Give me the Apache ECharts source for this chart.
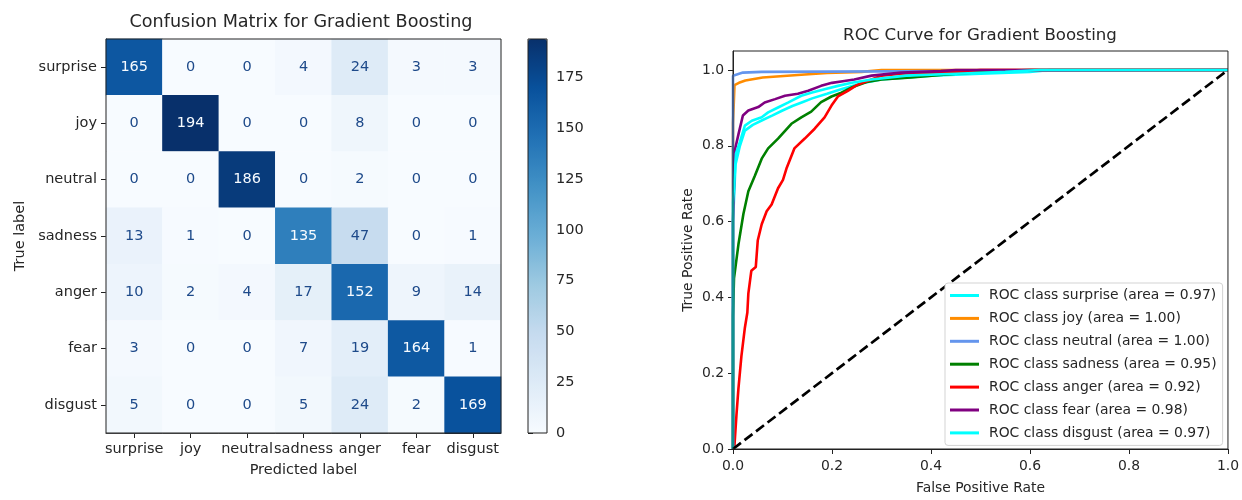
<!DOCTYPE html>
<html><head><meta charset="utf-8">
<script src="https://cdn.jsdelivr.net/npm/echarts@6/dist/echarts.min.js"></script>
<style>html,body{margin:0;padding:0;background:#fff}#c{width:1242px;height:500px}</style>
</head><body><div id="c"></div><script>
// ---------- data ----------
const classes = ['surprise','joy','neutral','sadness','anger','fear','disgust'];
// confusion matrix rows (true label), columns (predicted label)
const cmSurprise = [165, 0, 0, 4, 24, 3, 3];
const cmJoy      = [0, 194, 0, 0, 8, 0, 0];
const cmNeutral  = [0, 0, 186, 0, 2, 0, 0];
const cmSadness  = [13, 1, 0, 135, 47, 0, 1];
const cmAnger    = [10, 2, 4, 17, 152, 9, 14];
const cmFear     = [3, 0, 0, 7, 19, 164, 1];
const cmDisgust  = [5, 0, 0, 5, 24, 2, 169];
const colorbarTicks = [0, 25, 50, 75, 100, 125, 150, 175];
const rocTicks = [0, 0.2, 0.4, 0.6, 0.8, 1.0];
const rocAreas = [0.97, 1.00, 1.00, 0.95, 0.92, 0.98, 0.97];
// ROC curves [fpr, tpr]
const rocSurprise = [[0,0],[0,0.6],[0.005,0.75],[0.014,0.80],[0.024,0.84],[0.04,0.855],[0.06,0.868],[0.08,0.88],[0.1,0.893],[0.12,0.905],[0.14,0.915],[0.16,0.925],[0.19,0.937],[0.22,0.95],[0.26,0.965],[0.3,0.975],[0.4,0.985],[0.5,0.99],[0.6,0.995],[0.64,1],[1,1]];
const rocJoy = [[0,0],[0,0.86],[0.003,0.96],[0.012,0.966],[0.025,0.972],[0.06,0.98],[0.145,0.988],[0.19,0.992],[0.26,0.995],[0.3,1],[1,1]];
const rocNeutral = [[0,0],[0,0.985],[0.004,0.99],[0.02,0.993],[0.058,0.995],[0.06,1],[1,1]];
const rocSadness = [[0,0],[0,0.35],[0.002,0.45],[0.004,0.47],[0.011,0.54],[0.021,0.62],[0.031,0.68],[0.044,0.72],[0.058,0.766],[0.071,0.793],[0.091,0.819],[0.118,0.858],[0.138,0.875],[0.158,0.89],[0.178,0.915],[0.199,0.93],[0.219,0.94],[0.242,0.955],[0.27,0.968],[0.3,0.975],[0.36,0.98],[0.45,0.99],[0.53,0.997],[0.6,1],[1,1]];
const rocAnger = [[0,0],[0.003,0.01],[0.007,0.09],[0.011,0.16],[0.017,0.245],[0.024,0.32],[0.029,0.36],[0.031,0.41],[0.037,0.47],[0.046,0.48],[0.05,0.55],[0.058,0.593],[0.068,0.627],[0.078,0.645],[0.091,0.688],[0.101,0.71],[0.108,0.74],[0.124,0.793],[0.145,0.819],[0.165,0.845],[0.185,0.875],[0.199,0.906],[0.212,0.93],[0.232,0.945],[0.25,0.96],[0.28,0.975],[0.3,0.985],[0.34,0.99],[0.45,0.995],[0.5,1],[1,1]];
const rocFear = [[0,0],[0,0.6],[0.004,0.79],[0.011,0.83],[0.02,0.88],[0.031,0.893],[0.051,0.902],[0.064,0.914],[0.085,0.923],[0.105,0.932],[0.131,0.937],[0.152,0.945],[0.178,0.958],[0.2,0.966],[0.225,0.971],[0.245,0.975],[0.28,0.985],[0.34,0.993],[0.42,0.997],[0.45,1],[1,1]];
const rocDisgust = [[0,0],[0,0.65],[0.006,0.78],[0.014,0.81],[0.024,0.853],[0.038,0.866],[0.058,0.875],[0.071,0.888],[0.091,0.901],[0.111,0.914],[0.138,0.932],[0.158,0.94],[0.185,0.949],[0.212,0.958],[0.24,0.966],[0.28,0.975],[0.35,0.985],[0.45,0.99],[0.55,0.995],[0.62,1],[1,1]];
const chanceLine = [[0,0],[1,1]];

// ---------- build ----------
const cmRows = [cmSurprise, cmJoy, cmNeutral, cmSadness, cmAnger, cmFear, cmDisgust];
const rocCurves = [rocSurprise, rocJoy, rocNeutral, rocSadness, rocAnger, rocFear, rocDisgust];
const rocColors = ['#00ffff','#ff8c00','#6495ed','#008000','#ff0000','#800080','#00ffff'];
const blues = ['#f7fbff','#deebf7','#c6dbef','#9ecae1','#6baed6','#4292c6','#2171b5','#08519c','#08306b'];
const FONT = 'DejaVu Sans';
const TXT = '#262626';
const AX = '#222';
const FSL = 14.5;   // left panel text
const FSR = 13.9;   // right panel text
const cmMax = Math.max(...cmRows.flat());
const cmMin = Math.min(...cmRows.flat());
const thresh = (cmMax + cmMin) / 2;

const heatData = [];
cmRows.forEach((row, r) => row.forEach((v, c) => {
  heatData.push({value: [c, r, v], label: {color: v > thresh ? '#f7fbff' : '#1e4a8a'}});
}));

const rocNames = classes.map((c, i) => `ROC class ${c} (area = ${rocAreas[i].toFixed(2)})`);

function axisBase(fs) {
  return {
    axisLine: {show: true, lineStyle: {color: AX, width: 1}},
    axisTick: {show: true, length: 5, lineStyle: {color: AX, width: 1}},
    splitLine: {show: false},
    axisLabel: {color: TXT, fontFamily: FONT, fontSize: fs, margin: 9},
    nameTextStyle: {color: TXT, fontFamily: FONT, fontSize: fs},
    nameLocation: 'middle'
  };
}
const L = axisBase(FSL), R = axisBase(FSR);

const series = [{
  type: 'heatmap', xAxisIndex: 0, yAxisIndex: 0, data: heatData,
  label: {show: true, fontFamily: FONT, fontSize: FSL, formatter: p => p.value[2]},
  itemStyle: {borderWidth: 0},
  emphasis: {disabled: true}
}];
rocCurves.forEach((d, i) => series.push({
  type: 'line', name: rocNames[i], xAxisIndex: 1, yAxisIndex: 1, data: d,
  showSymbol: false, symbol: 'none', lineStyle: {color: rocColors[i], width: 2.6},
  itemStyle: {color: rocColors[i]}, emphasis: {disabled: true}
}));
series.push({
  type: 'line', name: 'chance', xAxisIndex: 1, yAxisIndex: 1, data: chanceLine,
  showSymbol: false, symbol: 'none', lineStyle: {color: '#000', width: 2.7, type: [10, 4.5]},
  emphasis: {disabled: true}
});

const option = {
  animation: false,
  backgroundColor: '#fff',
  title: [
    {text: 'Confusion Matrix for Gradient Boosting', left: 301, top: 13, textAlign: 'center', padding: 0,
     textStyle: {fontFamily: FONT, fontSize: 17.6, fontWeight: 'normal', color: TXT}},
    {text: 'ROC Curve for Gradient Boosting', left: 980, top: 27, textAlign: 'center', padding: 0,
     textStyle: {fontFamily: FONT, fontSize: 16.6, fontWeight: 'normal', color: TXT}}
  ],
  grid: [
    {left: 106, top: 39, width: 395, height: 394, show: true, borderColor: AX, borderWidth: 1, backgroundColor: 'transparent', z: 5},
    {left: 733, top: 51, width: 497, height: 403, show: true, borderColor: AX, borderWidth: 1, backgroundColor: 'transparent', z: 5},
    {left: 528, top: 39, width: 19, height: 394, show: true, borderColor: AX, borderWidth: 1, backgroundColor: 'transparent', z: 10}
  ],
  xAxis: [
    Object.assign({}, L, {gridIndex: 0, type: 'category', data: classes, name: 'Predicted label', nameGap: 30,
      axisTick: Object.assign({}, L.axisTick, {alignWithLabel: true}),
      axisLabel: Object.assign({}, L.axisLabel, {interval: 0, hideOverlap: false})}),
    Object.assign({}, R, {gridIndex: 1, type: 'value', min: 0, max: 1, interval: 0.2, name: 'False Positive Rate', nameGap: 32,
      axisLabel: Object.assign({}, R.axisLabel, {margin: 10, formatter: v => v.toFixed(1)})}),
    {gridIndex: 2, type: 'value', show: false, min: 0, max: 1}
  ],
  yAxis: [
    Object.assign({}, L, {gridIndex: 0, type: 'category', data: classes, inverse: true, name: 'True label', nameGap: 78,
      axisTick: Object.assign({}, L.axisTick, {alignWithLabel: true}),
      axisLabel: Object.assign({}, L.axisLabel, {interval: 0})}),
    Object.assign({}, R, {gridIndex: 1, type: 'value', min: 0, max: 1.05, name: 'True Positive Rate', nameGap: 38,
      axisTick: Object.assign({}, R.axisTick, {customValues: rocTicks}),
      axisLabel: Object.assign({}, R.axisLabel, {customValues: rocTicks, formatter: v => v.toFixed(1)})}),
    Object.assign({}, L, {gridIndex: 2, type: 'value', min: 0, max: cmMax, position: 'right',
      axisLine: {show: false},
      axisTick: Object.assign({}, L.axisTick, {customValues: colorbarTicks}),
      axisLabel: Object.assign({}, L.axisLabel, {customValues: colorbarTicks})})
  ],
  visualMap: [{
    type: 'continuous', seriesIndex: 0, min: 0, max: cmMax, calculable: false, hoverLink: false,
    left: 528, top: 39, padding: 0, itemWidth: 19, itemHeight: 394,
    inRange: {color: blues}, text: null
  }],
  legend: {
    data: rocNames, orient: 'vertical', left: 945, top: 283, padding: [4, 6, 4, 5],
    icon: 'rect', itemWidth: 29, itemHeight: 3, itemGap: 5.9,
    backgroundColor: '#fff', borderColor: '#d3d3d3', borderWidth: 1, borderRadius: 3,
    textStyle: {fontFamily: FONT, fontSize: FSR, color: TXT, lineHeight: 17, padding: [0, 0, 0, 5]},
    selectedMode: false
  },
  series: series
};
const chart = echarts.init(document.getElementById('c'), null, {renderer: 'canvas'});
chart.setOption(option);
</script></body></html>
